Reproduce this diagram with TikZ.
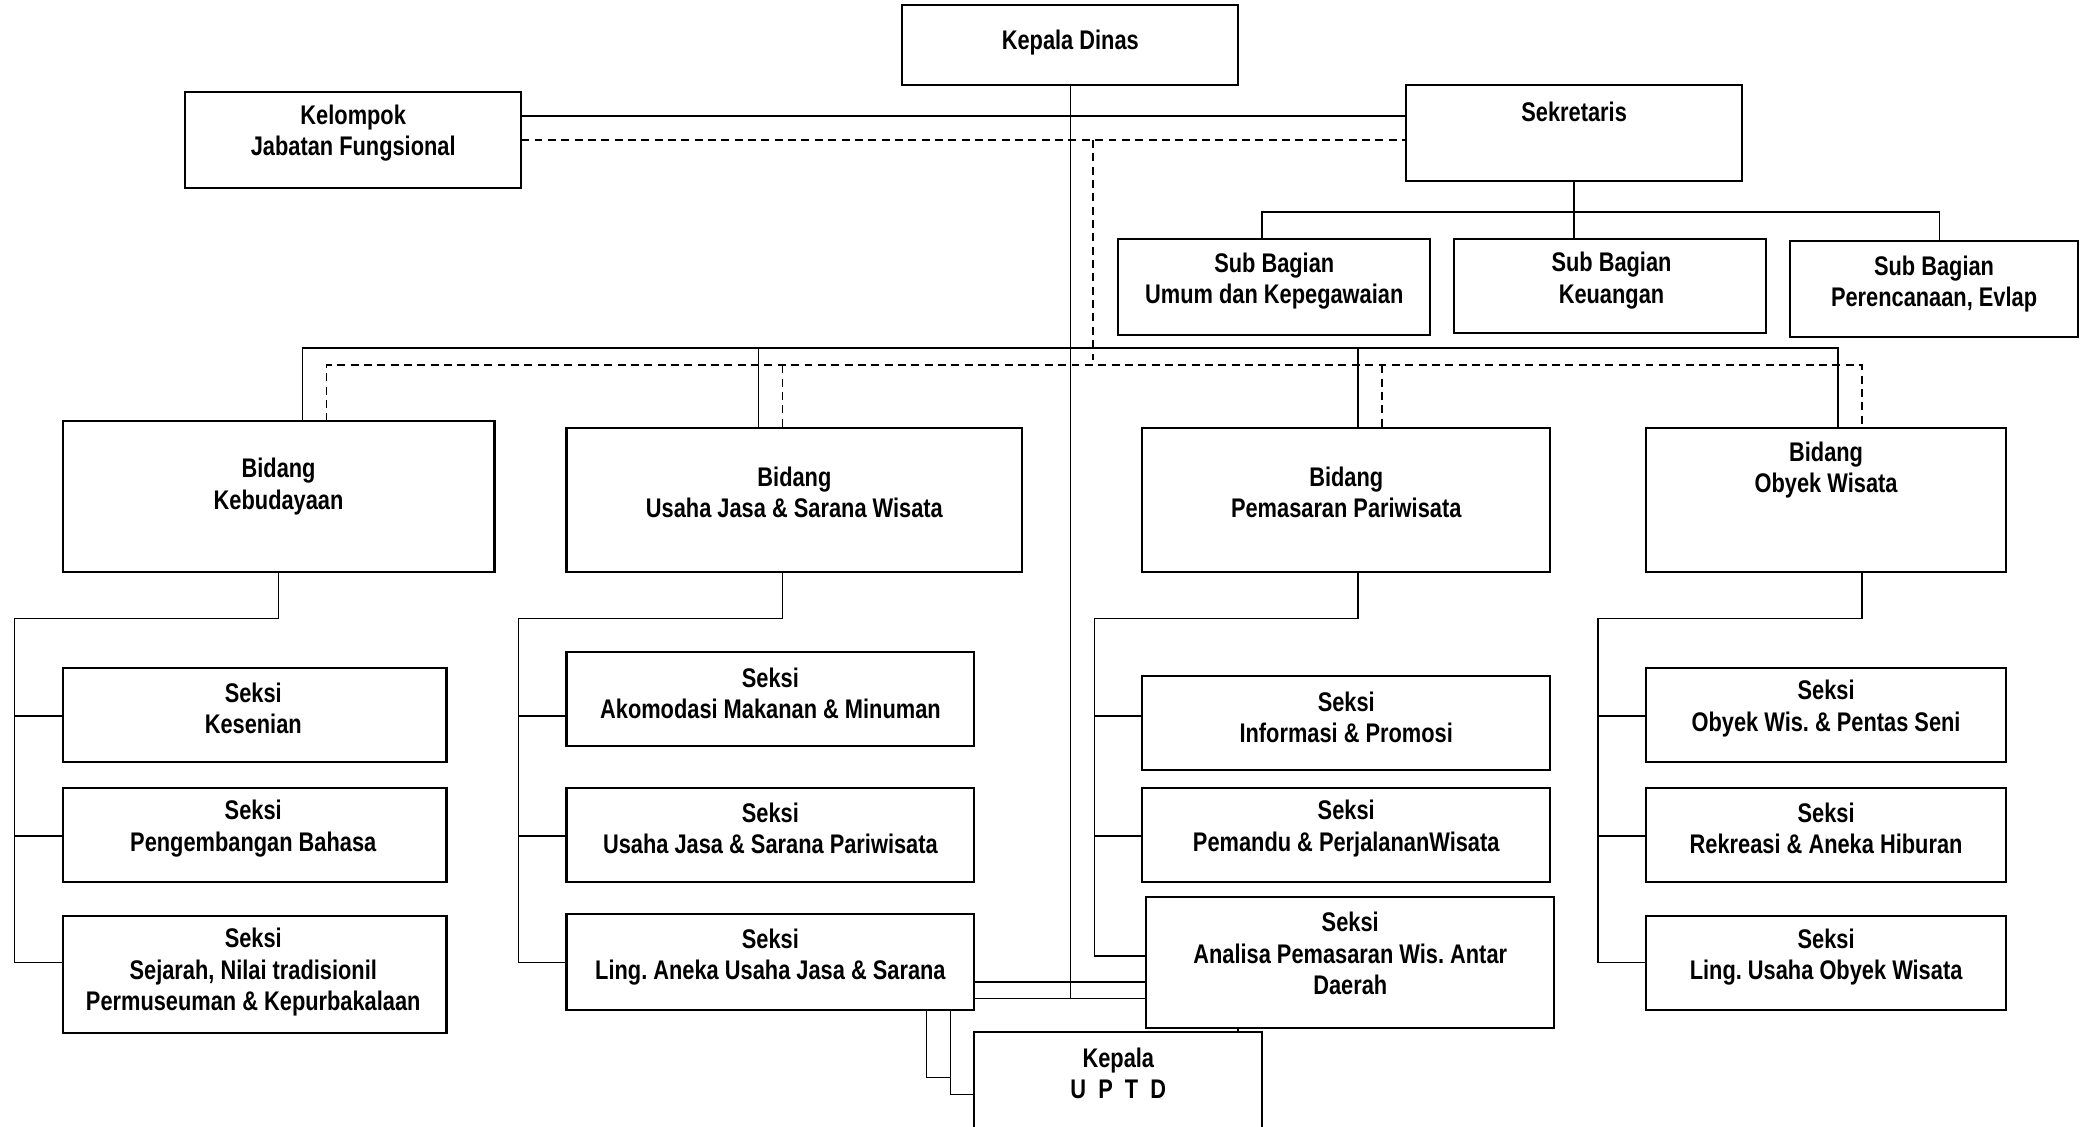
\documentclass[tikz,border=0pt]{standalone}
\usepackage{fontspec}
\setmainfont{Liberation Sans}[FakeStretch=0.81]
\frenchspacing
\newcommand\obox[5]{\node[box, minimum width={(#4-#2)*0.02cm}, minimum height={(#5-#3)*0.02cm}] (#1) at ({(#2+#4)/2},{(#3+#5)/2}) {};}
\newcommand\otext[4]{\node[txt] (#1t) at (#2,#3) {#4};}
\begin{document}
\begin{tikzpicture}[x=0.02cm,y=-0.02cm,
  box/.style={draw, line width=0.9pt, inner sep=0pt, outer sep=0pt},
  txt/.style={font=\fontsize{11.5}{13.4}\selectfont\bfseries, align=center, inner sep=0pt},
  ln/.style={line width=0.7pt},
  thinln/.style={line width=0.6pt},
  dsh/.style={line width=0.75pt, dash pattern=on 3.4pt off 2.3pt}]
\clip (0,0) rectangle (1568,845);
\fill[white] (0,0) rectangle (1568,845);

% boxes
\obox{kd}{677}{4}{929}{64}
\obox{kjf}{139}{69}{391}{141}
\obox{sek}{1055}{64}{1307}{136}
\obox{sba}{839}{179}{1073}{251}
\obox{sbb}{1091}{179}{1325}{250}
\obox{sbc}{1343}{181}{1559}{253}
\obox{ba}{47}{316}{371}{429}
\obox{bb}{425}{321}{767}{429}
\obox{bc}{857}{321}{1163}{429}
\obox{bd}{1235}{321}{1505}{429}
\obox{sa1}{47}{501}{335}{572}
\obox{sa2}{47}{591}{335}{662}
\obox{sa3}{47}{687}{335}{775}
\obox{sb1}{425}{489}{731}{560}
\obox{sb2}{425}{591}{731}{662}
\obox{sb3}{425}{686}{731}{758}
\obox{sc1}{857}{507}{1163}{578}
\obox{sc2}{857}{591}{1163}{662}
\obox{sc3}{860}{673}{1166}{771}
\obox{sd1}{1235}{501}{1505}{572}
\obox{sd2}{1235}{591}{1505}{662}
\obox{sd3}{1235}{687}{1505}{758}
\obox{uptd}{731}{774}{947}{880}

% texts
\otext{kd}{803}{32}{Kepala Dinas}
\otext{kjf}{265}{100}{Kelompok\\Jabatan Fungsional}
\otext{sek}{1181}{84}{Sekretaris}
\otext{sba}{956}{211}{Sub Bagian\\Umum dan Kepegawaian}
\otext{sbb}{1209}{210.5}{Sub Bagian\\Keuangan}
\otext{sbc}{1451}{213}{Sub Bagian\\Perencanaan, Evlap}
\otext{ba}{209}{365}{Bidang\\Kebudayaan}
\otext{bb}{596}{369.5}{Bidang\\Usaha Jasa \& Sarana Wisata}
\otext{bc}{1010}{369.5}{Bidang\\Pemasaran Pariwisata}
\otext{bd}{1370}{352.5}{Bidang\\Obyek Wisata}
\otext{sa1}{190}{531.5}{Seksi\\Kesenian}
\otext{sa2}{190}{621.5}{Seksi\\Pengembangan Bahasa}
\otext{sa3}{190}{729.5}{Seksi\\Sejarah, Nilai tradisionil\\Permuseuman \& Kepurbakalaan}
\otext{sb1}{578}{520}{Seksi\\Akomodasi Makanan \& Minuman}
\otext{sb2}{578}{621.5}{Seksi\\Usaha Jasa \& Sarana Pariwisata}
\otext{sb3}{578}{718}{Seksi\\Ling. Aneka Usaha Jasa \& Sarana}
\otext{sc1}{1010}{538}{Seksi\\Informasi \& Promosi}
\otext{sc2}{1010}{621.5}{Seksi\\Pemandu \& PerjalananWisata}
\otext{sc3}{1013}{715.5}{Seksi\\Analisa Pemasaran Wis. Antar\\Daerah}
\otext{sd1}{1370}{531.5}{Seksi\\Obyek Wis. \& Pentas Seni}
\otext{sd2}{1370}{621.5}{Seksi\\Rekreasi \& Aneka Hiburan}
\otext{sd3}{1370}{718}{Seksi\\Ling. Usaha Obyek Wisata}
\otext{uptd}{839}{805.5}{Kepala\\U\ \ P\ \ T\ \ D}

% main vertical from Kepala Dinas
\draw[thinln] (kd.south) -- (kd.south |- 0,749);

% Kelompok - Sekretaris
\draw[ln] (kjf.east |- 0,87) -- (sek.west |- 0,87);
\draw[dsh] (kjf.east |- 0,105) -- (sek.west |- 0,105);
\coordinate (dj) at (820,105);
\draw[dsh] (dj) -- (820,270);

% Sekretaris - Sub Bagian
\draw[ln] (sek.south) -- (sek.south |- 0,159);
\draw[ln] (sba.north -| 947,0) -- (947,159) -- (1455,159) -- (sbc.north -| 1455,0);
\draw[ln] (sek.south |- 0,159) -- (sbb.north -| 1181,0);

% Bidang top connectors
\draw[ln] (ba.north -| 227,0) -- (227,261) -- (1379,261) -- (bd.north -| 1379,0);
\draw[ln] (569,261) -- (bb.north -| 569,0);
\draw[ln] (1019,261) -- (bc.north -| 1019,0);
\draw[dsh] (ba.north -| 245,0) -- (245,274) -- (1397,274) -- (bd.north -| 1397,0);
\draw[dsh] (587,274) -- (bb.north -| 587,0);
\draw[dsh] (1037,274) -- (bc.north -| 1037,0);

% Bidang Kebudayaan
\draw[ln] (ba.south) |- (11,464) |- (sa3.west |- 0,722);
\draw[ln] (11,537) -- (sa1.west |- 0,537);
\draw[ln] (11,627) -- (sa2.west |- 0,627);
% Bidang Usaha Jasa
\draw[ln] (bb.south -| 587,0) |- (389,464) |- (sb3.west |- 0,722);
\draw[ln] (389,537) -- (sb1.west |- 0,537);
\draw[ln] (389,627) -- (sb2.west |- 0,627);
% Bidang Pemasaran
\draw[ln] (bc.south -| 1019,0) |- (821,464) |- (sc3.west |- 0,717);
\draw[ln] (821,537) -- (sc1.west |- 0,537);
\draw[ln] (821,627) -- (sc2.west |- 0,627);
% Bidang Obyek
\draw[ln] (bd.south -| 1397,0) |- (1199,464) |- (sd3.west |- 0,722);
\draw[ln] (1199,537) -- (sd1.west |- 0,537);
\draw[ln] (1199,627) -- (sd2.west |- 0,627);

% Ling. Aneka - Analisa
\draw[ln] (sb3.east |- 0,736.5) -- (sc3.west |- 0,736.5);
\draw[ln] (sb3.east |- 0,749) -- (sc3.west |- 0,749);

% to UPTD
\draw[ln] (sb3.south -| 695,0) |- (713,808.5);
\draw[ln] (sb3.south -| 713,0) |- (uptd.west |- 0,821);
\draw[ln] (sc3.south -| 929,0) -- (uptd.north -| 929,0);
\end{tikzpicture}
\end{document}
